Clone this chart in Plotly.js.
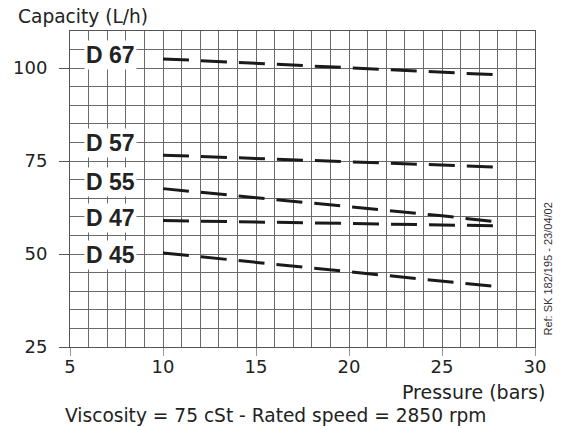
<!DOCTYPE html>
<html>
<head>
<meta charset="utf-8">
<script src="https://cdn.plot.ly/plotly-3.0.1.min.js"></script>
<style>
html,body{margin:0;padding:0;background:#fff;}
#chart{width:570px;height:428px;}
</style>
</head>
<body>
<div id="chart"></div>
<script>
// Data
const pressure = [10, 15, 20, 25, 28];
const d67 = [102.5, 101.3, 100.1, 99.0, 98.2];
const d57 = [76.6, 75.7, 74.8, 73.9, 73.4];
const d55 = [67.6, 65.2, 62.8, 60.3, 58.6];
const d47 = [59.0, 58.6, 58.2, 57.8, 57.6];
const d45 = [50.3, 47.8, 45.2, 42.7, 41.2];
const seriesNames = ['D 67', 'D 57', 'D 55', 'D 47', 'D 45'];
const seriesValues = [d67, d57, d55, d47, d45];
const labelY = [103.6, 80.0, 69.5, 59.6, 49.8];
const labelX = 7.2;
const xTickVals = [5, 10, 15, 20, 25, 30];
const yTickVals = [25, 50, 75, 100];

const traces = seriesValues.map((vals, i) => ({
  x: pressure,
  y: vals,
  name: seriesNames[i],
  type: 'scatter',
  mode: 'lines',
  line: {color: '#1a1a1a', width: 3, dash: '26px,12px'},
  hoverinfo: 'skip',
  showlegend: false
}));

const annotations = seriesNames.map((n, i) => ({
  x: labelX, y: labelY[i], xref: 'x', yref: 'y',
  text: '<b>' + n + '</b>', showarrow: false,
  font: {family: 'Liberation Sans, Arial, sans-serif', size: 23, color: '#222'},
  bgcolor: '#ffffff', borderpad: 1, xanchor: 'center', yanchor: 'middle'
}));

const txtFont = {family: 'DejaVu Sans, sans-serif', size: 18, color: '#222'};
annotations.push(
  {xref: 'paper', yref: 'paper', x: -0.116, y: 1.047, xanchor: 'left', yanchor: 'middle',
   text: 'Capacity (L/h)', showarrow: false, font: {family: 'DejaVu Sans, sans-serif', size: 18.6, color: '#222'}},
  {xref: 'paper', yref: 'paper', x: 1.025, y: -0.142, xanchor: 'right', yanchor: 'middle',
   text: 'Pressure (bars)', showarrow: false, font: {family: 'DejaVu Sans, sans-serif', size: 19, color: '#222'}},
  {xref: 'paper', yref: 'paper', x: 0.441, y: -0.218, xanchor: 'center', yanchor: 'middle',
   text: 'Viscosity = 75 cSt - Rated speed = 2850 rpm', showarrow: false, font: {family: 'DejaVu Sans, sans-serif', size: 18.6, color: '#222'}},
  {xref: 'paper', yref: 'paper', x: 1.027, y: 0.247, xanchor: 'center', yanchor: 'middle',
   text: 'Ref: SK 182/195 - 23/04/02', textangle: -90, showarrow: false,
   font: {family: 'Liberation Sans, Arial, sans-serif', size: 11, color: '#333'}}
);

const layout = {
  width: 570, height: 428,
  margin: {l: 70, r: 35, t: 31, b: 81, pad: 0},
  paper_bgcolor: '#fff', plot_bgcolor: '#fff',
  xaxis: {
    range: [5, 30], tickmode: 'array', tickvals: xTickVals,
    showgrid: true, gridcolor: '#6a6a6a', gridwidth: 1,
    minor: {dtick: 1, tick0: 5, showgrid: true, gridcolor: '#6a6a6a', gridwidth: 1},
    ticks: 'outside', ticklen: 8, tickcolor: '#999', tickwidth: 1,
    showline: true, linecolor: '#555', linewidth: 1, mirror: true,
    zeroline: false, tickfont: txtFont, ticklabelstandoff: -5
  },
  yaxis: {
    range: [25, 110], tickmode: 'array', tickvals: yTickVals,
    showgrid: true, gridcolor: '#6a6a6a', gridwidth: 1,
    minor: {dtick: 5, tick0: 25, showgrid: true, gridcolor: '#6a6a6a', gridwidth: 1},
    ticks: 'outside', ticklen: 10, tickcolor: '#555', tickwidth: 1,
    showline: true, linecolor: '#555', linewidth: 1, mirror: true,
    zeroline: false, tickfont: txtFont, ticklabelstandoff: 8
  },
  annotations: annotations,
  showlegend: false
};

Plotly.newPlot('chart', traces, layout, {staticPlot: true, displayModeBar: false});
</script>
</body>
</html>
